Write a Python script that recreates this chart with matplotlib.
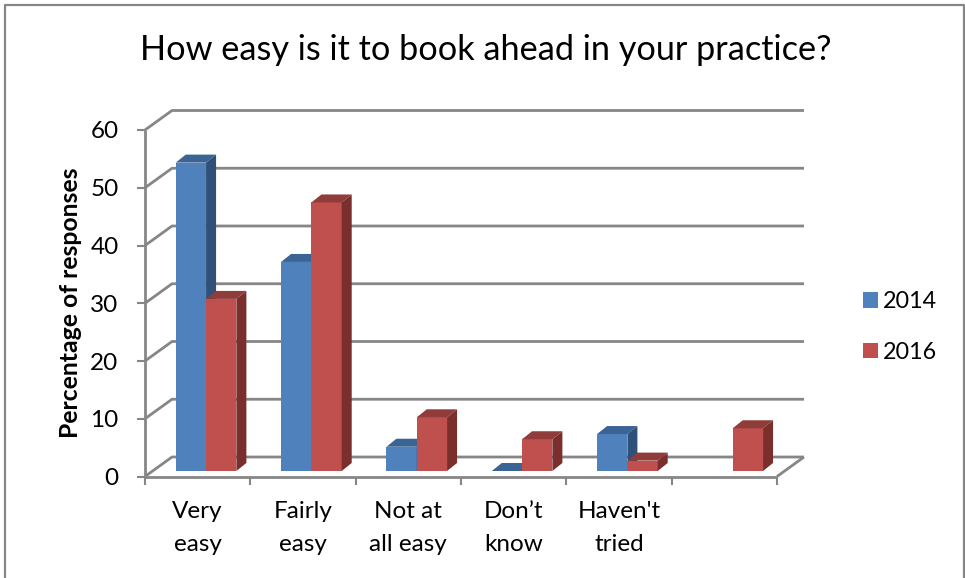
import numpy as np
import matplotlib.pyplot as plt
from matplotlib.lines import Line2D
from matplotlib.patches import Polygon

categories = ['Very\neasy', 'Fairly\neasy', 'Not at\nall easy', 'Don’t\nknow', "Haven't\ntried", '']
vals_2014 = [53.4, 36.2, 4.2, 0, 6.4, np.nan]
vals_2016 = [29.8, 46.5, 9.3, 5.5, 1.8, 7.4]
yticks = [0, 10, 20, 30, 40, 50, 60]

plt.rcParams['font.family'] = ['Lato', 'DejaVu Sans']
GRAY = '#868686'
W, H = 965, 578

fig = plt.figure(figsize=(9.65, 5.78), dpi=100)
ax = fig.add_axes([145/W, 1-476.5/H, 632/W, 346.5/H])
ax.set_xlim(0, 6)
ax.set_ylim(0, 60)
for s in ax.spines.values():
    s.set_visible(False)

# depth of the fake 3d box, in data units
wall_dx, wall_dy = 27/105.3, 19.5/5.775
bar_w = 30.3/105.3
off_x, off_y = 8.4/105.3, 5.5/5.775
bar_dx, bar_dy = 10/105.3, 8/5.775


def line(xs, ys, z=1):
    ax.plot(xs, ys, color=GRAY, lw=2, clip_on=False, zorder=z, solid_capstyle='butt')


for t in yticks:
    line([0, wall_dx, 6+wall_dx], [t, t+wall_dy, t+wall_dy])
line([6, 6+wall_dx], [0, wall_dy])
line([0, 0], [0, 60], z=2)
line([0, 6], [-0.1, -0.1], z=2)


def bars(vals, pos, color, top_c, side_c, label):
    x = np.arange(6)+0.5+off_x+pos*bar_w
    b = ax.bar(x, vals, bar_w, bottom=off_y, color=color, linewidth=0,
               zorder=3+pos*2, label=label, clip_on=False)
    for xi, v in zip(x, vals):
        if np.isnan(v):
            continue
        l, r, t = xi-bar_w/2, xi+bar_w/2, v+off_y
        ax.add_patch(Polygon([(l, t), (r, t), (r+bar_dx, t+bar_dy), (l+bar_dx, t+bar_dy)],
                             fc=top_c, ec='none', zorder=3+pos*2, clip_on=False))
        ax.add_patch(Polygon([(r, off_y), (r+bar_dx, off_y+bar_dy), (r+bar_dx, t+bar_dy), (r, t)],
                             fc=side_c, ec='none', zorder=3+pos*2, clip_on=False))
    return b


b1 = bars(vals_2014, -0.5, '#4F81BD', '#3A6494', '#2F5078', '2014')
b2 = bars(vals_2016, 0.5, '#C0504D', '#8F3C3A', '#7A2F2D', '2016')

ax.set_xticks(np.arange(7))
ax.set_xticks(np.arange(6)+0.5, categories, minor=True)
ax.tick_params(axis='x', which='major', length=5.5, width=1.5, color=GRAY, labelbottom=False)
ax.tick_params(axis='x', which='minor', length=0, pad=18, labelsize=17.5)
for lab in ax.get_xticklabels(minor=True):
    lab.set_linespacing(1.65)
ax.set_yticks(yticks)
ax.tick_params(axis='y', length=6, width=1.5, color=GRAY, pad=13, labelsize=17.5)
ax.set_ylabel('Percentage of responses', fontsize=17.8, fontweight='bold')
ax.yaxis.set_label_coords((82-145)/632, (476.5-303)/346.5)

fig.suptitle('How easy is it to book ahead in your practice?', x=486/W, y=1-50/H,
             fontsize=24.7, va='center')
ax.legend(handles=[b1, b2], loc='center left', bbox_to_anchor=(863/W, 1-327/H),
          bbox_transform=fig.transFigure, frameon=False, fontsize=16.8, handlelength=0.65,
          handleheight=0.65, handletextpad=0.22, labelspacing=1.25, borderpad=0, borderaxespad=0)

fig.add_artist(Line2D([5/W, 5/W, 964/W, 964/W], [0, 1-5/H, 1-5/H, 0], color=GRAY, lw=1.6))
fig.savefig('out.png', dpi=100)
